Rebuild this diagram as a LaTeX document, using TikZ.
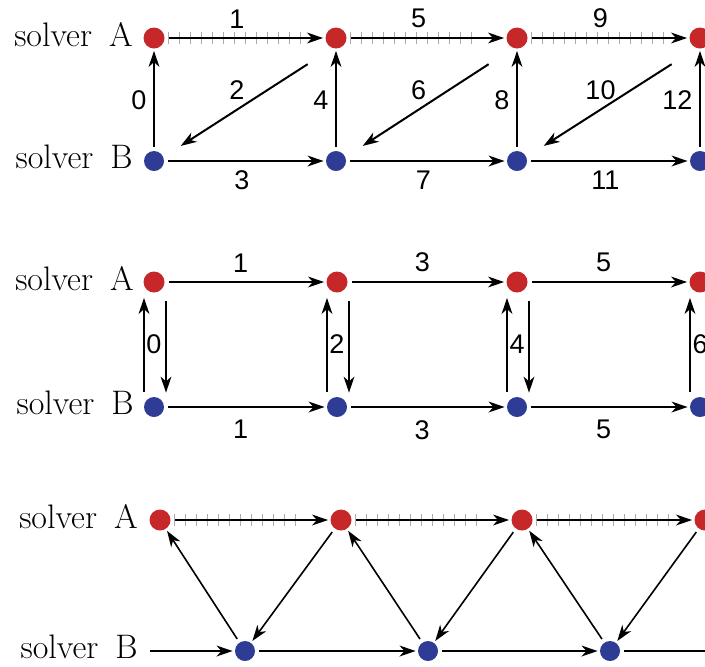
\documentclass[tikz,border=0pt]{standalone}
\usepackage{fontspec}
\newfontfamily\labelfont{Liberation Sans}
\usepackage{tikz}
\usetikzlibrary{arrows.meta, calc, decorations.markings}

\definecolor{solverA}{RGB}{198,40,42}
\definecolor{solverB}{RGB}{46,60,150}

\tikzset{
  dotA/.style={circle, fill=solverA, minimum size=10.5pt, inner sep=0pt},
  dotB/.style={circle, fill=solverB, minimum size=10pt, inner sep=0pt},
  solver/.style={font=\fontsize{17}{17}\selectfont, anchor=base east, inner sep=0pt},
  num/.style={font=\labelfont\fontsize{13.5}{13.5}\selectfont, inner sep=1pt},
  msg/.style={draw, line width=1pt, -{Stealth[length=8pt, width=5.4pt, inset=2.4pt]},
    shorten <=2pt, shorten >=1pt},
  sync/.style={msg, line width=0.7pt},
  diag/.style={msg, line width=0.8pt},
  ticked/.style={msg, preaction={decorate, decoration={markings,
    mark=between positions 2pt and -12pt step 5.5pt with
      {\draw[-, gray!65, line width=0.5pt, shorten <=0pt, shorten >=0pt] (0,-3.2pt) -- (0,3.2pt);}}}}
}

\begin{document}
\begin{tikzpicture}[x=0.5pt, y=-0.5pt]
  \useasboundingbox (0,0) rectangle (705,666);

  % upper: the solvers take turns
  \foreach \i/\x in {0/154, 1/336, 2/517, 3/700} {
    \node[dotA] (ua\i) at (\x,38) {};
    \node[dotB] (ub\i) at (\x,161) {};
  }
  \node[solver] (ulabA) at (133,46) {solver\enspace A};
  \node[solver] (ulabB) at (133,168) {solver\enspace B};
  \draw[sync] (ub0) -- node[num, left=2.5pt] (un0) {0} (ua0);
  \foreach \i/\j/\ka/\kd/\kb/\kv in {0/1/1/2/3/4, 1/2/5/6/7/8, 2/3/9/10/11/12} {
    \draw[ticked] (ua\i) -- node[num, pos=0.45, above=3.5pt] (un\ka) {\ka} (ua\j);
    \draw[msg] ([shift={(-25,24)}]ua\j.center)
      -- node[num, shift={(-8,-14)}] (un\kd) {\kd} ([shift={(25,-14)}]ub\i.center);
    \draw[msg] (ub\i) -- node[num, pos=0.48, below=3.5pt] (un\kb) {\kb} (ub\j);
    \draw[sync] (ub\j) -- node[num, left=2.5pt] (un\kv) {\kv} (ua\j);
  }

  % middle: exchange in both directions
  \foreach \i/\x in {0/154, 1/337, 2/517, 3/700} {
    \node[dotA] (ma\i) at (\x,282) {};
    \node[dotB] (mb\i) at (\x,407) {};
  }
  \node[solver] (mlabA) at (134,290) {solver\enspace A};
  \node[solver] (mlabB) at (134,414) {solver\enspace B};
  \foreach \i/\j/\k in {0/1/1, 1/2/3, 2/3/5} {
    \draw[msg] (ma\i) -- node[num, pos=0.47, above=3.5pt] (mnA\k) {\k} (ma\j);
    \draw[msg] (mb\i) -- node[num, pos=0.47, below=5.2pt] (mnB\k) {\k} (mb\j);
  }
  \foreach \i/\k in {0/0, 1/2, 2/4, 3/6} {
    \draw[sync, shorten <=2.5pt, shorten >=2.5pt] ([xshift=-5pt]mb\i.north) -- ([xshift=-5pt]ma\i.south);
    \node[num] (mn\k) at ($(ma\i)!0.5!(mb\i)$) {\k};
  }
  \foreach \i in {0,1,2}
    \draw[sync, shorten <=4pt, shorten >=2pt] ([xshift=6pt]ma\i.south) -- ([xshift=6pt]mb\i.north);

  % lower: staggered
  \foreach \i/\x in {0/160, 1/341, 2/522, 3/705}
    \node[dotA] (la\i) at (\x,520) {};
  \foreach \i/\x in {0/245, 1/428, 2/610}
    \node[dotB] (lb\i) at (\x,651) {};
  \node[solver] (llabA) at (138,528) {solver\enspace A};
  \node[solver] (llabB) at (138,658) {solver\enspace B};
  \coordinate (lin) at (150,651);
  \coordinate (lout) at (712,651);
  \draw[msg, shorten <=0pt] (lin) -- (lb0);
  \foreach \i/\j in {0/1, 1/2}
    \draw[msg] (lb\i) -- (lb\j);
  \draw[line width=1pt, shorten <=2pt] (lb2) -- (lout);
  \foreach \i/\j in {0/1, 1/2, 2/3} {
    \draw[ticked] (la\i) -- (la\j);
    \draw[diag] (lb\i) -- (la\i);
    \draw[diag] (la\j) -- (lb\i);
  }
\end{tikzpicture}
\end{document}
